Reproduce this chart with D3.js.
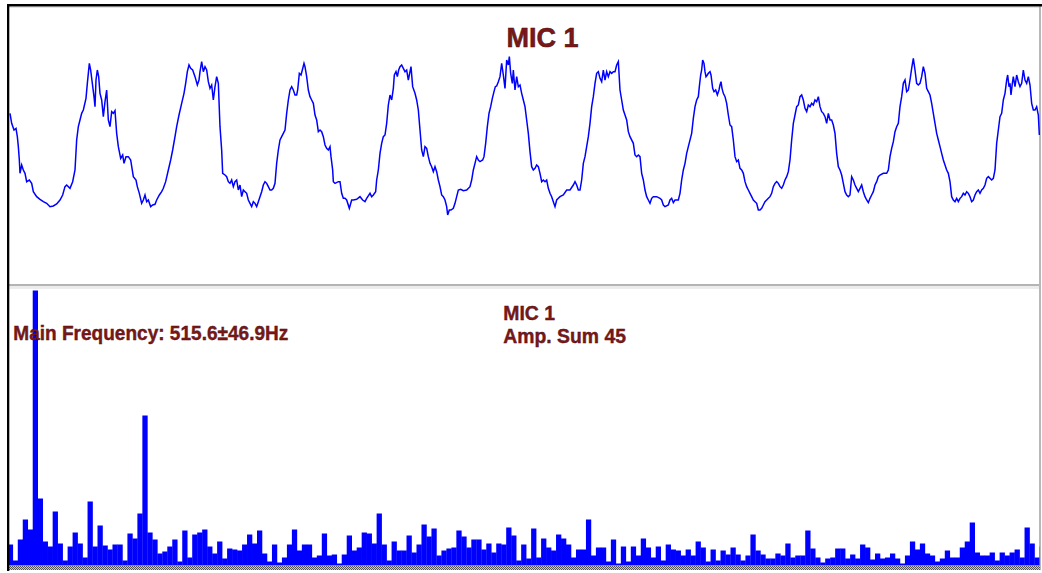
<!DOCTYPE html>
<html><head><meta charset="utf-8">
<script src="https://cdn.jsdelivr.net/npm/d3@7/dist/d3.min.js"></script>
<style>html,body{margin:0;padding:0;background:#fff;}svg{display:block;}</style>
</head><body>
<svg id="c" width="1042" height="573"></svg>
<script>
// ---------- DATA ----------
const titleText = "MIC 1";
const mainFreqText = "Main Frequency: 515.6±46.9Hz";
const specTitle = "MIC 1";
const ampSumText = "Amp. Sum 45";

// waveform: time (sample units) and amplitude
const waveT = [0,5,12,18,22,25,28,30,35,40,45,50,58,65,70,80,90,100,110,120,130,140,150,158,165,170,180,188,195,200,205,210,215,220,228,232,238,242,247,252,255,258,262,266,270,275,280,285,290,295,300,305,310,315,320,325,332,338,342,348,355,362,370,378,382,388,395,400,405,410,415,422,428,435,440,448,455,460,467,475,482,488,495,500,507,515,522,527,532,537,542,548,555,562,567,570,575,580,585,590,595,600,605,610,615,620,625,630,635,638,645,650,655,660,665,670,675,680,685,690,695,700,705,710,715,720,725,730,735,740,745,750,755,760,765,770,775,780,785,790,795,800,805,810,815,820,825,830,835,840,845,850,855,860,863,868,873,877,882,885,890,895,900,905,910,915,920,925,930,935,940,945,950,955,960,963,968,970,975,985,990,995,1000,1005,1010,1018,
1025,1030,1040,1050,1058,1065,1070,1080,1085,1090,1097,1100,1105,1110,1115,1120,1125,1130,1135,1140,1145,1150,1153,1158,1162,1166,1170,1175,1180,1185,1190,1195,1200,1203,1208,1215,1220,1225,1230,1235,1240,1245,1250,1255,1260,1265,1270,1275,1280,1285,1290,1295,1300,1305,1310,1313,1318,1323,1330,1335,1340,1345,1352,1360,1370,1380,1385,1390,1395,1400,1405,1410,1418,1422,1427,1432,1437,1442,1447,1452,1456,1460,1465,1470,1475,1480,1485,1490,1495,1498,1502,1507,1510,1515,1520,1525,1530,1535,1540,1545,1550,1555,1560,1565,1570,1575,1580,1585,1590,1595,1600,1605,1610,1615,1620,1625,1630,1635,1640,1645,1650,1660,1670,1680,1690,1695,1700,1705,1710,1715,1720,1725,1730,1735,1740,1745,1750,1755,1760,1765,1770,1775,1780,1785,1790,1795,1800,1805,1810,1815,1820,1825,1830,1835,1840,1845,1850,1855,1860,1870,1875,1880,1885,1890,1895,1900,1905,1910,1915,1920,1925,1930,1940,1950,1955,1960,1965,1975,1980,1985,1990,1995,2000,2005,2010,2015,2020,2025,2030,2035,
2045,2050,2055,2060,2065,2068,2072,2075,2078,2082,2085,2088,2092,2095,2100,2103,2108,2112,2117,2122,2127,2130,2133,2136,2140,2145,2150,2155,2160,2165,2170,2175,2180,2185,2190,2195,2200,2205,2210,2215,2220,2225,2230,2235,2240,2245,2250,2255,2260,2265,2270,2275,2280,2285,2290,2295,2300,2305,2310,2315,2320,2325,2330,2335,2340,2345,2350,2355,2360,2365,2370,2375,2380,2385,2390,2395,2400,2405,2410,2415,2420,2425,2430,2435,2440,2445,2450,2455,2460,2465,2470,2475,2480,2485,2490,2495,2500,2505,2510,2515,2520,2525,2530,2535,2540,2545,2550,2555,2560,2565,2570,2575,2580,2585,2590,2595,2600,2605,2610,2620,2630,2635,2640,2645,2650,2655,2660,2665,2670,2675,2680,2685,2690,2695,2700,2705,2710,2715,2720,2725,2730,2735,2740,2745,2750,2755,2760,2765,2770,2775,2780,2785,2790,2795,2800,2805,2810,2815,2820,2825,2830,2835,2840,2845,2850,2855,2860,2865,2870,2875,2880,2885,2890,2895,2900,2905,2910,2915,2920,2925,2930,2935,2945,2950,2955,2960,2965,2970,2975,2980,2985,2990,2993,2997,3000,3003,3007,3010,3015,3020,3025,3030,3035,3040,3045,3050,3055,3060,3065,3070,3075,3080,3085,3088];
const waveV = [95,65,45,50,25,-5,-45,-85,-60,-75,-85,-110,-105,-115,-140,-155,-163,-170,-175,-185,-183,-177,-165,-150,-125,-120,-130,-110,-75,15,55,75,95,105,140,185,245,225,185,145,115,195,225,205,155,135,85,130,165,75,55,100,95,103,35,-5,-40,-30,-55,-35,-35,-45,-95,-105,-125,-145,-175,-165,-150,-170,-165,-185,-180,-178,-165,-150,-140,-130,-110,-75,-45,-15,25,55,90,125,155,185,220,240,230,225,205,180,195,220,250,220,235,225,190,170,180,135,175,205,185,55,-15,-85,-90,-95,-110,-115,-105,-125,-110,-105,-135,-120,-155,-135,-140,-145,-165,-175,-185,-170,-175,-185,-170,-155,-140,-120,-110,-115,-125,-135,-135,-130,-115,-55,-15,15,25,35,45,95,135,165,175,165,150,150,165,215,210,225,245,235,205,165,145,135,125,90,75,40,45,40,25,0,-10,-15,-5,-35,-75,-110,-115,-110,-110,-145,-160,-160,-165,-190,
-165,-165,-163,-155,-165,-170,-160,-145,-155,-150,-140,-105,-75,-25,5,25,30,65,120,150,135,170,210,220,205,225,235,240,230,220,225,195,220,235,175,155,135,105,45,-15,-35,-5,-10,-35,-55,-65,-80,-65,-80,-105,-125,-150,-155,-165,-185,-210,-195,-195,-190,-175,-155,-135,-133,-137,-135,-125,-105,-75,-55,-35,-45,-50,-45,-35,5,55,95,115,140,160,175,177,190,205,245,210,170,255,240,265,215,185,225,165,205,175,180,155,135,115,75,35,-20,-65,-75,-70,-60,-65,-85,-110,-105,-110,-105,-130,-145,-155,-170,-185,-165,-160,-155,-150,-135,-135,-120,-110,-120,-135,-135,-105,-55,-35,-5,25,65,115,145,185,215,220,200,190,225,195,220,205,220,215,220,220,240,250,165,135,105,90,75,40,25,5,-30,-35,-30,-35,-85,-105,-135,-155,-165,-175,-160,-155,-155,-160,-165,-180,-185,-180,-165,-160,-173,-165,-165,-165,-145,-105,-75,-55,-25,-5,
35,80,115,135,145,175,210,225,255,245,220,205,210,215,220,210,170,160,165,150,165,180,190,170,155,145,125,90,60,55,15,-35,-50,-45,-70,-75,-85,-110,-125,-135,-145,-155,-165,-170,-175,-195,-195,-190,-180,-170,-165,-160,-155,-145,-125,-115,-110,-115,-125,-130,-120,-105,-95,-80,-45,15,65,90,115,120,145,150,135,110,100,120,115,125,120,135,130,145,115,100,95,85,65,95,75,75,60,35,-25,-65,-75,-90,-115,-140,-150,-155,-150,-95,-105,-120,-130,-140,-130,-120,-140,-155,-165,-173,-160,-150,-140,-120,-110,-95,-90,-85,-85,-75,-35,-10,10,40,55,65,115,145,185,195,160,165,195,230,260,225,185,180,185,205,235,215,170,160,150,125,95,65,35,15,-5,-25,-45,-60,-75,-85,-110,-155,-165,-170,-160,-170,-160,-155,-145,-150,-140,-145,-155,-170,-165,-150,-140,-135,-145,-135,-130,-120,-100,-95,-105,-100,-75,5,45,85,95,135,155,195,210,175,185,150,185,205,175,210,190,175,185,225,195,185,205,180,125,105,105,115,90,30];

// spectrum amplitudes, one per frequency bin
const barAmp = [2.0,0.4,2.5,4.5,3.5,27.4,6.6,2.3,1.8,5.3,
2.1,0.4,1.8,3.2,2.1,0.7,6.3,1.8,3.9,1.9,
1.5,2.0,2.0,0.4,3.1,2.6,5.1,14.9,3.2,2.5,
1.1,1.3,1.8,2.5,0.3,3.4,0.7,3.0,3.2,3.5,
1.8,1.1,2.3,0.6,1.6,1.5,1.4,2.0,3.0,2.1,
3.4,1.1,0.3,2.0,0.2,0.7,2.0,3.5,1.4,2.0,
2.0,0.7,0.9,3.1,0.9,1.0,0.1,1.0,2.9,1.4,
1.7,3.2,3.1,2.1,5.1,2.0,0.4,2.3,1.4,1.4,
2.9,1.2,2.0,4.0,2.8,3.6,0.9,1.4,1.6,1.7,
3.4,2.8,1.7,2.5,2.5,1.5,2.1,1.2,2.1,2.0,
3.7,2.9,0.4,2.0,0.6,3.6,0.7,2.6,1.7,1.4,
3.0,2.6,2.0,0.7,1.5,1.5,4.5,0.9,1.7,1.7,
0.3,2.5,0.1,1.8,0.3,1.8,0.9,2.6,1.7,0.7,
1.8,0.4,2.0,1.5,1.4,0.9,1.5,0.9,2.3,1.7,
0.3,1.5,0.4,1.4,1.0,1.7,1.0,0.4,0.9,3.0,
1.4,1.0,0.6,0.6,1.1,0.9,2.1,0.7,0.9,0.9,
3.4,1.6,0.7,0.2,0.6,0.7,1.6,1.6,0.6,1.0,
0.6,2.0,1.7,0.5,1.1,0.6,0.7,1.1,0.6,0.1,
0.9,2.3,1.5,2.1,1.1,0.9,0.3,0.6,1.4,0.7,
0.7,1.7,2.3,4.2,1.2,0.9,0.9,1.2,0.4,1.2,
0.9,1.2,1.5,0.7,3.7,2.1,0.7,1.8];

// ---------- DRAW ----------
const svg = d3.select("#c");
const textColor = "#7a1818";
const font = "'Liberation Sans', Arial, sans-serif";

const defs = svg.append("defs");
defs.append("clipPath").attr("id","clipTop").append("rect")
  .attr("x",9).attr("y",7).attr("width",1031).attr("height",277);
defs.append("clipPath").attr("id","clipBot").append("rect")
  .attr("x",9).attr("y",288).attr("width",1030.5).attr("height",278);
const pat = defs.append("pattern").attr("id","dots").attr("width",2).attr("height",2)
  .attr("patternUnits","userSpaceOnUse");
pat.append("rect").attr("width",2).attr("height",2).attr("fill","#c8c8c8");
pat.append("rect").attr("width",1).attr("height",1).attr("fill","#555");
pat.append("rect").attr("x",1).attr("y",1).attr("width",1).attr("height",1).attr("fill","#555");

// frame
svg.append("rect").attr("x",9).attr("y",7).attr("width",1031).attr("height",1).attr("fill","#e4e4e4");
svg.append("rect").attr("x",9).attr("y",284).attr("width",1031).attr("height",2).attr("fill","#b4b4b4");
svg.append("rect").attr("x",9).attr("y",286).attr("width",1031).attr("height",3).attr("fill","#ececec");
svg.append("rect").attr("x",1039).attr("y",6).attr("width",2).attr("height",564).attr("fill","#b8b8b8");
svg.append("rect").attr("x",9).attr("y",566).attr("width",1031).attr("height",4).attr("fill","url(#dots)");

// top panel: waveform
const xW = d3.scaleLinear().domain([0,3090]).range([10,1040]);
const yW = d3.scaleLinear().domain([-400,400]).range([278.33,11.67]);
const line = d3.line().x((d,i)=>xW(waveT[i])).y((d,i)=>yW(waveV[i]));
svg.append("g").attr("clip-path","url(#clipTop)")
  .append("path").datum(waveV).attr("d",line)
  .attr("fill","none").attr("stroke","#0000ff").attr("stroke-width",1.5)
  .attr("stroke-linejoin","miter");

svg.append("text").attr("x",542.5).attr("y",46.5).attr("text-anchor","middle")
  .attr("font-family",font).attr("font-weight","bold").attr("font-size",27)
  .attr("fill",textColor).attr("stroke","#4a0a0a").attr("stroke-width",0.5)
  .attr("textLength",72).attr("lengthAdjust","spacingAndGlyphs").text(titleText);

// bottom panel: spectrum
const xB = d3.scaleBand().domain(d3.range(barAmp.length)).range([7.8, 7.8+barAmp.length*4.984]).padding(0);
const yB = d3.scaleLinear().domain([0,28]).range([564.5,284.5]);
svg.append("g").attr("clip-path","url(#clipBot)")
  .selectAll("rect").data(barAmp).join("rect")
  .attr("x",(d,i)=>xB(i)).attr("width",xB.bandwidth()+0.3)
  .attr("y",d=>yB(d)).attr("height",d=>565.5-yB(d))
  .attr("fill","#0000ff");

const t1 = svg.append("text").attr("x",13.3).attr("y",340)
  .attr("font-family",font).attr("font-weight","bold").attr("font-size",19.5)
  .attr("fill",textColor).attr("stroke","#4a0a0a").attr("stroke-width",0.35)
  .attr("textLength",275).attr("lengthAdjust","spacingAndGlyphs").text(mainFreqText);
svg.append("text").attr("x",503.3).attr("y",319.5)
  .attr("font-family",font).attr("font-weight","bold").attr("font-size",19.5)
  .attr("fill",textColor).attr("stroke","#4a0a0a").attr("stroke-width",0.35)
  .attr("textLength",51.7).attr("lengthAdjust","spacingAndGlyphs").text(specTitle);
svg.append("text").attr("x",503.3).attr("y",342.7)
  .attr("font-family",font).attr("font-weight","bold").attr("font-size",19.5)
  .attr("fill",textColor).attr("stroke","#4a0a0a").attr("stroke-width",0.35)
  .attr("textLength",122.7).attr("lengthAdjust","spacingAndGlyphs").text(ampSumText);

// outer black border (top & left)
svg.append("rect").attr("x",7).attr("y",4).attr("width",1035).attr("height",2.5).attr("fill","#000");
svg.append("rect").attr("x",7).attr("y",4).attr("width",2.3).attr("height",567).attr("fill","#000");
</script>
</body></html>
